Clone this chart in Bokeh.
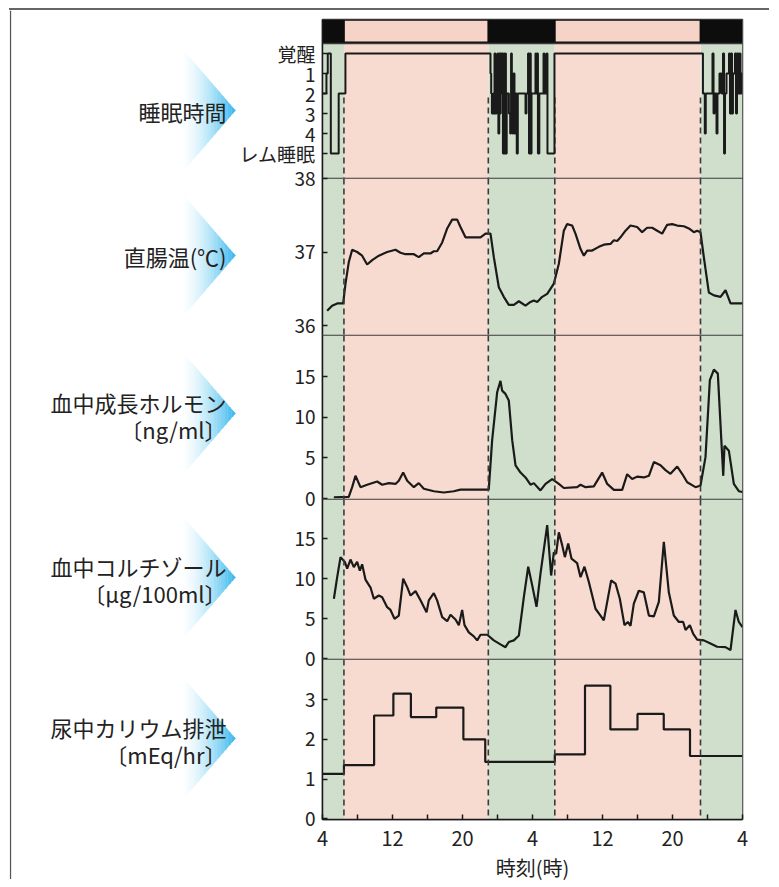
from bokeh.plotting import figure
from bokeh.layouts import row, column
from bokeh.models import Range1d, FixedTicker, Span, BoxAnnotation, Div
from bokeh.embed import file_html
from bokeh.resources import INLINE
from bokeh.core.properties import value

FONT = "Noto Sans CJK JP"
PINK = "#f8dbd0"
GREEN = "#cfdfcb"
INK = "#1a1a1a"
EDGE = "#3a3a3a"

# ---------------- data ----------------
# time axis: hours counted from 0:00 of day 1 (4 -> 52 = two full days)
hour_ticks = [4, 8, 12, 16, 20, 24, 28, 32, 36, 40, 44, 48, 52]
hour_labels = ["4", "", "12", "", "20", "", "4", "", "12", "", "20", "", "4"]

# light / dark schedule (lights off 23:00, on 6:30)
dark_starts = [4.0, 22.95, 47.2]
dark_ends = [6.45, 30.55, 52.0]
light_starts = [6.45, 30.55]
light_ends = [22.95, 47.2]
switch_hours = [6.45, 22.95, 30.55, 47.2]

# sleep stage: 0 = awake, 1-4 = stages, 5 = REM
sleep_levels = [0, 1, 2, 3, 4, 5]
sleep_level_labels = ["覚醒", "1", "2", "3", "4", "レム睡眠"]
sleep_hours = [4.0, 4.45, 4.6, 4.95, 5.85, 6.62,
               23.2, 23.28, 23.36, 23.5, 23.6, 23.66, 23.77, 23.9, 24.0, 24.1,
               24.2, 24.3, 24.36, 24.46, 24.55, 24.62, 24.72, 24.8, 24.9, 24.96,
               25.05, 25.3, 25.45, 25.55, 25.64, 25.72, 25.82, 25.94, 26.06, 26.2,
               26.32, 27.2, 27.31, 27.49, 27.6, 27.7, 27.8, 27.89, 28.34, 28.45,
               28.55, 28.62, 28.78, 29.26, 29.37, 29.6, 29.71, 30.51,
               47.48, 47.69, 47.8, 48.57, 48.69, 48.8, 49.03, 49.14, 49.37, 49.6,
               49.77, 49.89, 50.0, 50.17, 50.46, 50.57, 50.69, 50.8, 50.91, 51.14,
               51.26, 51.37, 51.54, 51.66, 51.77, 51.89, 52.0]
sleep_stage = [2, 1, 0, 5, 2, 0,
               1, 2, 3, 2, 3, 0, 3, 1, 0, 4,
               0, 3, 0, 2, 0, 5, 0, 5, 0, 5,
               2, 3, 4, 0, 2, 4, 1, 4, 2, 5,
               2, 3, 2, 0, 5, 0, 5, 2, 0, 2,
               0, 5, 2, 0, 2, 0, 5, 0,
               2, 4, 2, 0, 3, 2, 4, 2, 1, 2,
               0, 5, 2, 1, 0, 3, 0, 3, 1, 0,
               3, 0, 2, 0, 2, 1, 1]

# rectal temperature (deg C)
temp_ticks = [36, 37, 38]
temp_hours = [4.53, 5.1, 5.68, 6.36, 6.63, 7.0, 7.39, 7.96, 8.53, 9.1, 9.68, 10.44,
              11.39, 12.34, 12.91, 13.49, 14.44, 15.0, 15.58, 16.34, 16.72, 17.1,
              17.68, 18.25, 18.82, 19.39, 19.77, 20.34, 21.29, 22.06, 22.63, 23.2,
              23.58, 24.15, 24.72, 25.29, 25.87, 26.44, 27.2, 27.77, 28.15, 28.54,
              29.11, 29.68, 30.44, 31.01, 31.58, 31.96, 32.53, 32.91, 33.49, 33.87,
              34.25, 34.82, 35.58, 36.15, 36.91, 37.3, 37.68, 38.06, 38.63, 39.2,
              39.96, 40.53, 41.1, 41.68, 42.25, 42.82, 43.39, 43.96, 44.54, 45.3,
              45.87, 46.44, 46.82, 47.2, 47.58, 48.15, 48.73, 49.49, 50.06, 50.63,
              51.2, 52.0]
temp_vals = [36.20, 36.27, 36.30, 36.30, 36.57, 36.86, 37.03, 37.00, 36.95, 36.83,
             36.89, 36.95, 37.00, 37.03, 36.99, 36.97, 36.97, 36.93, 36.98, 36.98,
             37.01, 37.01, 37.13, 37.32, 37.44, 37.44, 37.34, 37.20, 37.20, 37.20,
             37.25, 37.25, 36.93, 36.52, 36.39, 36.28, 36.28, 36.33, 36.27, 36.32,
             36.34, 36.32, 36.39, 36.43, 36.57, 36.84, 37.29, 37.38, 37.36, 37.25,
             37.04, 36.95, 37.02, 37.02, 37.07, 37.10, 37.11, 37.16, 37.15, 37.20,
             37.29, 37.36, 37.34, 37.27, 37.33, 37.33, 37.29, 37.25, 37.37, 37.38,
             37.36, 37.35, 37.32, 37.27, 37.29, 37.27, 36.93, 36.45, 36.41, 36.39,
             36.48, 36.30, 36.30, 36.30]

# plasma growth hormone (ng/ml)
gh_ticks = [0, 5, 10, 15]
gh_hours = [5.3, 7.0, 7.39, 7.77, 8.34, 9.1, 10.25, 10.82, 11.58, 12.34, 12.72, 13.22,
            13.68, 14.44, 15.0, 15.58, 16.72, 17.87, 19.0, 19.77, 21.29, 23.0, 23.39,
            23.96, 24.34, 24.53, 24.91, 25.29, 25.68, 26.06, 26.63, 27.2, 27.77, 28.15,
            28.91, 29.49, 30.25, 31.01, 31.58, 33.1, 33.49, 34.06, 35.01, 35.96, 36.54,
            37.3, 38.25, 38.82, 39.39, 39.96, 40.72, 41.3, 41.87, 42.63, 43.2, 43.77,
            44.54, 45.1, 45.68, 46.63, 47.2, 47.77, 48.27, 48.73, 49.18, 49.58, 49.8,
            49.94, 50.44, 51.01, 51.58, 52.0]
gh_vals = [0.16, 0.2, 1.4, 2.8, 1.4, 1.7, 2.1, 1.7, 1.9, 1.8, 2.2, 3.2, 2.2, 1.4, 1.9,
           1.2, 0.9, 0.74, 0.9, 1.1, 1.1, 1.1, 7.2, 13.1, 14.5, 13.3, 12.9, 12.1, 7.2,
           4.1, 3.2, 2.6, 1.7, 1.9, 1.0, 1.8, 2.4, 1.8, 1.3, 1.4, 1.7, 1.4, 1.5, 3.2,
           1.8, 1.07, 1.07, 3.0, 2.4, 2.7, 2.6, 2.8, 4.5, 4.1, 3.5, 3.05, 3.95, 3.05,
           2.0, 1.4, 1.6, 5.1, 14.6, 15.9, 15.4, 7.2, 2.8, 6.5, 5.9, 1.8, 0.9, 0.8]

# plasma cortisol (ug/100ml)
cort_ticks = [0, 5, 10, 15]
cort_hours = [5.3, 5.68, 6.06, 6.55, 6.82, 7.2, 7.58, 7.96, 8.27, 8.53, 8.91, 9.49,
              9.87, 10.44, 10.82, 11.39, 11.77, 12.23, 12.72, 13.22, 13.68, 14.06,
              14.63, 15.2, 15.89, 16.15, 16.72, 17.1, 17.68, 18.25, 18.63, 19.2, 19.58,
              19.96, 20.23, 20.72, 21.29, 21.68, 22.06, 22.82, 23.58, 24.34, 24.91,
              25.29, 25.87, 26.44, 27.01, 27.51, 27.96, 28.46, 28.91, 29.68, 30.13,
              30.44, 30.7, 31.01, 31.39, 31.7, 32.08, 32.46, 33.1, 33.49, 33.94, 34.44,
              35.2, 35.77, 36.15, 36.99, 37.49, 37.98, 38.51, 38.9, 39.2, 39.58, 40.15,
              40.72, 41.3, 41.87, 42.44, 43.01, 43.58, 44.15, 44.73, 45.22, 45.49,
              45.98, 46.37, 46.82, 47.58, 48.34, 49.1, 50.06, 50.63, 51.2, 51.58, 52.0]
cort_vals = [7.5, 10.2, 12.7, 12.1, 11.25, 12.4, 11.45, 12.1, 11.0, 11.8, 9.9, 8.9,
             7.5, 7.9, 7.7, 6.45, 6.1, 5.0, 5.4, 10.0, 8.95, 7.9, 8.45, 7.3, 5.8, 7.3,
             8.2, 7.3, 5.2, 4.7, 5.5, 4.9, 4.2, 6.1, 4.2, 3.3, 2.8, 2.3, 3.0, 3.0, 2.3,
             1.8, 1.45, 2.1, 2.3, 2.9, 7.7, 11.5, 9.2, 6.5, 10.6, 16.7, 10.4, 13.3,
             13.1, 15.8, 14.2, 12.7, 14.4, 12.5, 11.95, 10.2, 11.5, 9.6, 6.25, 5.4,
             4.8, 9.8, 9.4, 7.5, 4.2, 4.6, 4.1, 6.9, 8.5, 8.3, 5.4, 5.3, 7.1, 14.6,
             8.3, 5.4, 4.6, 4.6, 3.6, 4.2, 3.1, 2.4, 2.3, 1.9, 1.5, 1.45, 1.08, 6.1,
             4.6, 3.95]

# urinary potassium excretion (mEq/hr), collection periods
k_ticks = [0, 1, 2, 3]
k_edges = [4.0, 6.45, 9.9, 12.1, 14.1, 17.0, 20.1, 22.6, 30.55, 34.0, 36.9, 40.0,
           43.0, 46.0, 52.0]
k_vals = [1.13, 1.35, 2.6, 3.15, 2.56, 2.8, 2.0, 1.43, 1.62, 3.35, 2.25, 2.64, 2.25, 1.58]

panel_titles = [["睡眠時間"], ["直腸温(℃)"], ["血中成長ホルモン", "〔ng/ml〕"],
                ["血中コルチゾール", "〔µg/100ml〕"], ["尿中カリウム排泄", "〔mEq/hr〕"]]

# ---------------- layout constants ----------------
LW = 227           # left strip with arrows and titles
ML, MR = 84, 20    # panel borders
FW = 420           # frame width
OV = 16            # canvas overlap so edge tick labels are not cut
TOPLINE = 2
H_TOTAL = 869
TICK_FS = "19px"

x_range = Range1d(4, 52)


def make_panel(frame_h, y_rng, first=False, last=False):
    p = figure(frame_width=FW, frame_height=frame_h, x_range=x_range, y_range=y_rng,
               toolbar_location=None, output_backend="svg",
               min_border_left=ML, min_border_right=MR,
               min_border_top=9 if first else OV,
               min_border_bottom=58 if last else OV,
               x_axis_location="below" if last else None,
               background_fill_color="white", border_fill_color=None,
               outline_line_color=EDGE, outline_line_width=1.5)
    if not first:
        p.margin = (-2 * OV, 0, 0, 0)
    p.grid.visible = False
    for s, e in zip(dark_starts, dark_ends):
        p.add_layout(BoxAnnotation(left=s, right=e, fill_color=GREEN, fill_alpha=1,
                                   line_color=None, level="underlay"))
    for s, e in zip(light_starts, light_ends):
        p.add_layout(BoxAnnotation(left=s, right=e, fill_color=PINK, fill_alpha=1,
                                   line_color=None, level="underlay"))
    ax = p.yaxis[0]
    ax.major_tick_in = 5
    ax.major_tick_out = 0
    ax.minor_tick_line_color = None
    ax.major_tick_line_color = INK
    ax.major_tick_line_width = 1.5
    ax.axis_line_color = INK
    ax.axis_line_width = 1.5
    ax.major_label_text_font = FONT
    ax.major_label_text_font_size = TICK_FS
    ax.major_label_text_color = "#222222"
    ax.major_label_standoff = 7
    return p


def dashed(p, y0=None, y1=None):
    if y0 is None:
        for h in switch_hours:
            p.add_layout(Span(location=h, dimension="height", line_color=EDGE,
                              line_width=1.6, line_dash="6 4"))
    else:
        p.segment(x0=switch_hours, x1=switch_hours, y0=y0, y1=y1, line_color=EDGE,
                  line_width=1.6, line_dash="6 4")


# ---- panel 1 : light bar + sleep stages
p1 = make_panel(159, Range1d(6.25, -1.7), first=True)
p1.yaxis.ticker = FixedTicker(ticks=sleep_levels)
p1.yaxis.major_label_overrides = dict(zip(sleep_levels, sleep_level_labels))
dashed(p1, 2.2, 6.3)
p1.quad(left=dark_starts, right=dark_ends, top=-1.75, bottom=-0.5,
        fill_color="#0d0d0d", line_color=None)
p1.quad(left=light_starts, right=light_ends, top=-1.68, bottom=-0.55,
        fill_color="#f6d3c7", line_color="#0d0d0d", line_width=1.8)
p1.add_layout(Span(location=-0.5, dimension="width", line_color=EDGE, line_width=1.5))
p1.step(sleep_hours, sleep_stage, mode="after", line_color=INK, line_width=2)

# ---- panel 2 : temperature
p2 = make_panel(157, Range1d(35.864, 38.0))
p2.yaxis.ticker = FixedTicker(ticks=temp_ticks)
dashed(p2)
p2.line(temp_hours, temp_vals, line_color=INK, line_width=2.2)

# ---- panel 3 : growth hormone
p3 = make_panel(164, Range1d(-0.12, 20.1))
p3.yaxis.ticker = FixedTicker(ticks=gh_ticks)
dashed(p3)
p3.line(gh_hours, gh_vals, line_color=INK, line_width=2.2)

# ---- panel 4 : cortisol
p4 = make_panel(160, Range1d(-0.09, 19.9))
p4.yaxis.ticker = FixedTicker(ticks=cort_ticks)
dashed(p4)
p4.line(cort_hours, cort_vals, line_color=INK, line_width=2.2)

# ---- panel 5 : potassium
p5 = make_panel(160, Range1d(-0.02, 4.01), last=True)
p5.yaxis.ticker = FixedTicker(ticks=k_ticks)
dashed(p5)
p5.step(k_edges, k_vals + [k_vals[-1]], mode="after", line_color=INK, line_width=2.2)
xa = p5.xaxis[0]
xa.ticker = FixedTicker(ticks=hour_ticks)
xa.major_label_overrides = dict(zip(hour_ticks, hour_labels))
xa.major_tick_in = 5
xa.major_tick_out = 0
xa.major_tick_line_color = INK
xa.major_tick_line_width = 1.5
xa.minor_tick_line_color = None
xa.axis_line_color = INK
xa.axis_line_width = 1.5
xa.major_label_text_font = FONT
xa.major_label_text_font_size = "20px"
xa.major_label_text_color = "#222222"
xa.major_label_standoff = 11
xa.axis_label = "時刻(時)"
xa.axis_label_text_font = FONT
xa.axis_label_text_font_size = "20px"
xa.axis_label_text_font_style = "normal"
xa.axis_label_text_color = "#222222"
xa.axis_label_standoff = 4

# ---------------- left strip: arrows + titles ----------------
left = figure(width=LW, height=H_TOTAL, x_range=Range1d(0, LW),
              y_range=Range1d(H_TOTAL, 0),
              toolbar_location=None, output_backend="svg", min_border=0,
              x_axis_location=None, y_axis_location=None,
              outline_line_color=None, background_fill_color="white",
              border_fill_color="white")
left.grid.visible = False

tips = [100, 245, 403, 567, 728]   # arrow tip y (strip coords)
AX0, AX1, HALF = 171, 226, 64
N = 40
blue = (52, 182, 236)
xs, ys, cols = [], [], []
for cy in tips:
    for i in range(N):
        xa0 = AX0 + (AX1 - AX0) * i / N
        xa1 = AX0 + (AX1 - AX0) * (i + 1) / N + 0.4
        h0 = HALF * (AX1 - xa0) / (AX1 - AX0)
        h1 = HALF * max(AX1 - xa1, 0) / (AX1 - AX0)
        xs.append([xa0, xa1, xa1, xa0])
        ys.append([cy - h0, cy - h1, cy + h1, cy + h0])
        t = ((i + 0.5) / N) ** 1.6
        c = tuple(int(round(255 * (1 - t) + b * t)) for b in blue)
        cols.append("#%02x%02x%02x" % c)
left.patches(xs, ys, fill_color=cols, line_color=None)

tx, ty, tt = [], [], []
for cy, lines in zip(tips, panel_titles):
    if len(lines) == 1:
        tx.append(217); ty.append(cy); tt.append(lines[0])
    else:
        tx += [217, 217]; ty += [cy - 12, cy + 15]; tt += lines
left.text(x=tx, y=ty, text=tt, text_font=value(FONT), text_font_size=value("22px"),
          text_align="right", text_baseline="middle", text_color="#222222")
left.segment(x0=[1], y0=[0], x1=[1], y1=[H_TOTAL], line_color="#555555", line_width=1.3)

# thin rule along the top of the whole figure box
topline = Div(text="", width=760, height=TOPLINE, margin=(0, 0, 0, 0),
              styles={"background-color": "#666666"})

layout = column(topline,
                row(left, column(p1, p2, p3, p4, p5, spacing=0), spacing=0),
                spacing=0, margin=(8, 0, 0, 9))

open("out.html", "w").write(file_html(layout, INLINE))
